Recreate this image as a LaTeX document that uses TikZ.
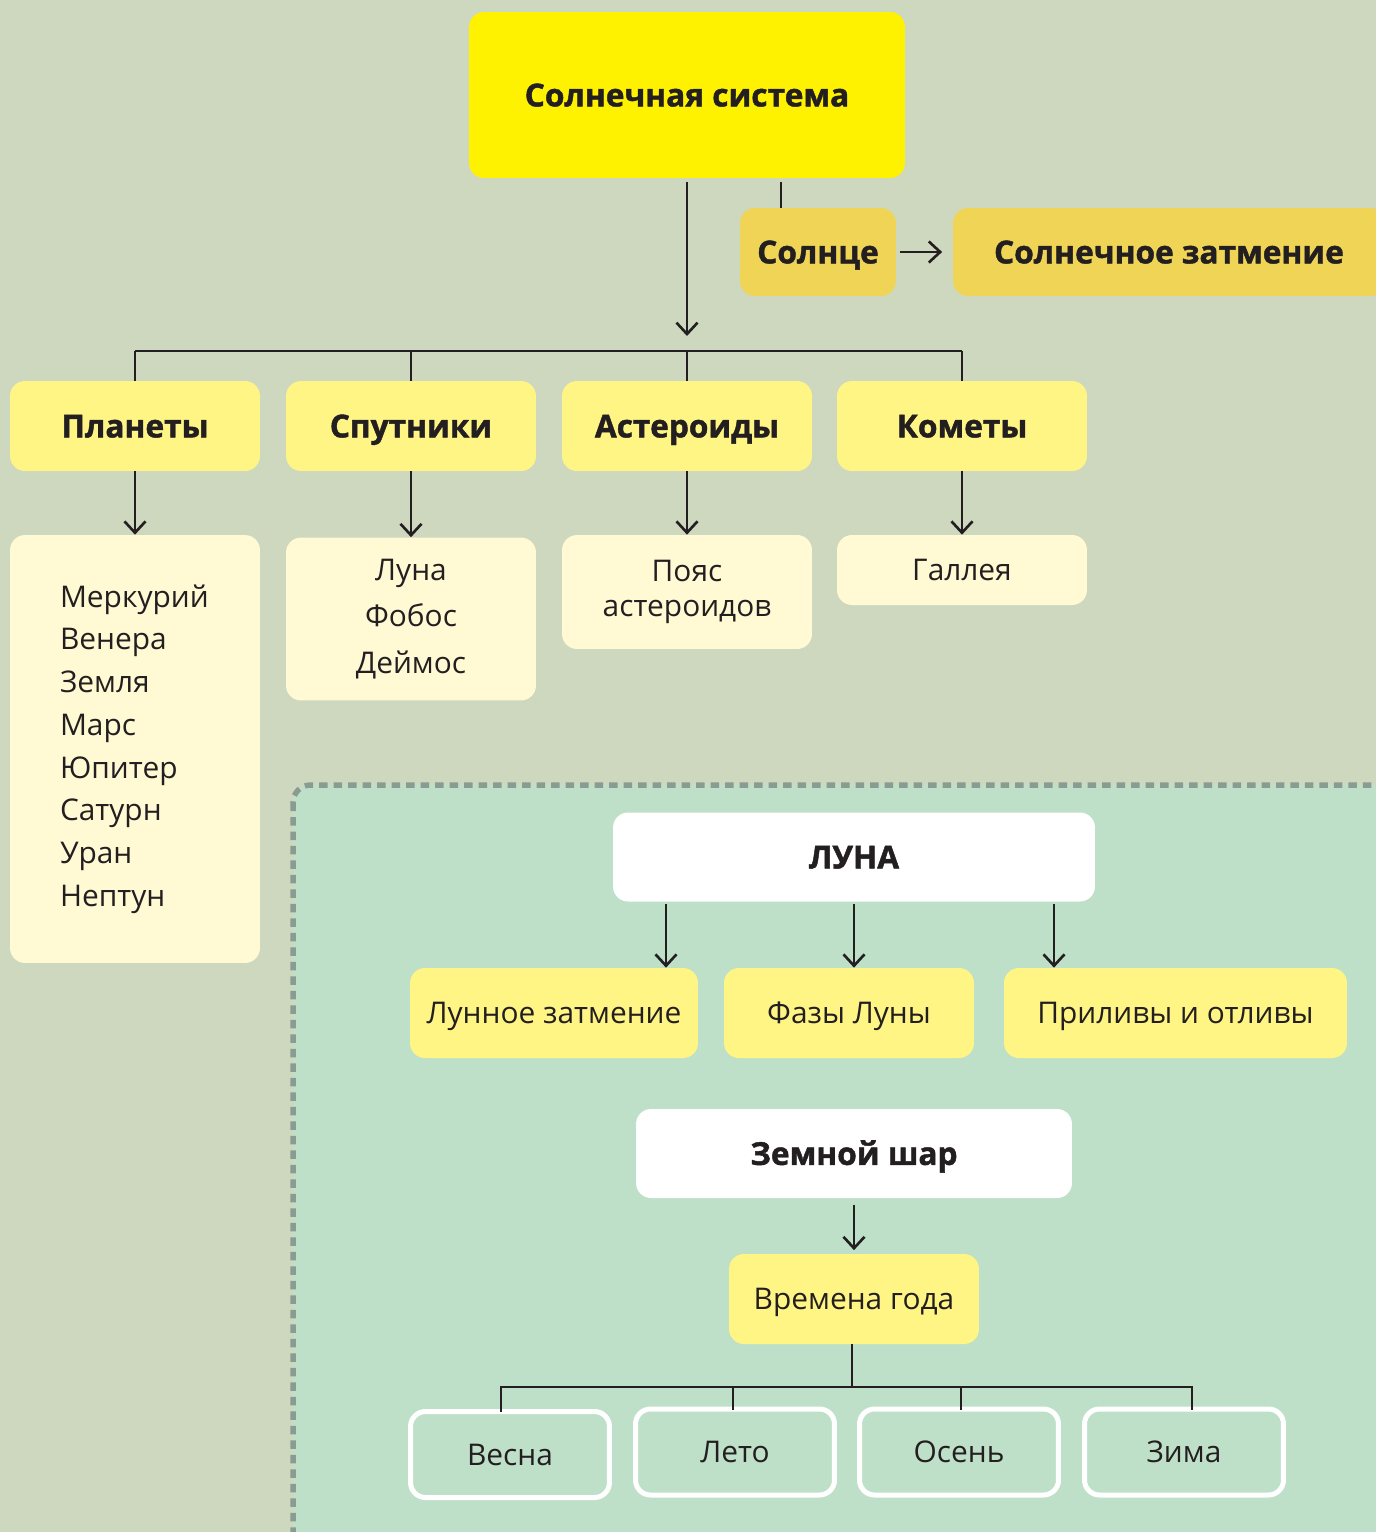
\documentclass[tikz,border=0pt]{standalone}
\usepackage{fontspec}
\setmainfont{Open Sans}[BoldFeatures={FakeBold=1.4}]
\usepackage{tikz}
\usetikzlibrary{arrows.meta}
\definecolor{backgr}{RGB}{206, 216, 191}
\definecolor{sunyellow}{RGB}{255, 242, 0}
\definecolor{staryellow}{RGB}{239, 212, 86}
\definecolor{groupyellow}{RGB}{255, 245, 133}
\definecolor{listyellow}{RGB}{255, 250, 212}
\definecolor{moongreen}{RGB}{191, 224, 200}
\definecolor{dashgray}{RGB}{138, 155, 145}
\definecolor{inkblack}{RGB}{35, 31, 32}

\begin{document}
\begin{tikzpicture}[x=0.02cm, y=-0.02cm,
  box/.style={rounded corners=0.3cm, inner sep=0pt, align=center, text=inkblack},
  headbox/.style={box, text height=17pt, text depth=4pt, font=\fontsize{18}{22}\selectfont\bfseries},
  textbox/.style={box, font=\fontsize{17}{24}\selectfont},
  oneline/.style={text height=16pt, text depth=4pt},
  groupbox/.style={headbox, fill=groupyellow, minimum width=5cm, minimum height=1.8cm},
  listbox/.style={textbox, fill=listyellow, minimum width=5cm},
  leafbox/.style={textbox, oneline, fill=groupyellow, minimum height=1.8cm},
  seasonbox/.style={textbox, oneline, draw=white, line width=0.1cm, fill=moongreen, minimum width=3.98cm, minimum height=1.72cm},
  arr/.style={draw=inkblack, line width=1.5pt, -{Straight Barb[length=6.5pt, width=12pt, line width=1.5pt]}},
  link/.style={draw=inkblack, line width=1.5pt}]
% background and margins
\fill[backgr] (0,0) rectangle (1376,1532);
\useasboundingbox (0,0) rectangle (1376,1532);

% Solar system part
\node[headbox, fill=sunyellow, minimum width=8.72cm, minimum height=3.32cm] (system) at (687,95) {Солнечная система};
\node[headbox, fill=staryellow, minimum width=3.12cm, minimum height=1.76cm] (sun) at (818,252) {Солнце};
\node[headbox, fill=staryellow, minimum width=8.64cm, minimum height=1.76cm] (eclipse) at (1169,252) {Солнечное затмение};

\node[groupbox] (planets) at (135,426) {Планеты};
\node[groupbox] (moons) at (411,426) {Спутники};
\node[groupbox] (asteroids) at (687,426) {Астероиды};
\node[groupbox] (comets) at (962,426) {Кометы};

\node[listbox, minimum height=8.56cm, text width=3cm, align=left, font=\fontsize{17}{24.3}\selectfont] (planetlist) at (135,749)
  {Меркурий\\Венера\\Земля\\Марс\\Юпитер\\Сатурн\\Уран\\Нептун\\[3pt]};
\node[listbox, minimum height=3.26cm, font=\fontsize{17}{26.5}\selectfont] (moonlist) at (411,619) {Луна\\Фобос\\Деймос};
\node[listbox, minimum height=2.28cm, font=\fontsize{17}{20}\selectfont] (beltlist) at (687,592) {Пояс\\астероидов};
\node[listbox, oneline, minimum height=1.4cm] (cometlist) at (962,570) {Галлея};

\coordinate (hub) at (687,351);
\coordinate (hubtop) at (687,336);

% connectors
\draw[arr] ([yshift=-0.08cm]system.south) -- (hubtop);
\draw[link] (hub -| planets.north) -- (hub -| comets.north);
\foreach \g in {planets, moons, asteroids, comets}
  \draw[link] (hub -| \g.north) -- (\g.north);
\draw[link] (781,0 |- system.south) ++(0,4) -- (781,0 |- sun.north);
\draw[arr, shorten <=2pt, shorten >=6pt] (sun.east) -- (eclipse.west);
\draw[arr] (planets.south) -- (planetlist.north);
\draw[arr] (moons.south) -- (moonlist.north);
\draw[arr] (asteroids.south) -- (beltlist.north);
\draw[arr] (comets.south) -- (cometlist.north);

% Moon and Earth part
\draw[dashgray, fill=moongreen, line width=0.11cm, dash pattern=on 0.17cm off 0.12cm, rounded corners=0.35cm]
  (293,785) rectangle (1420,1580);

\node[headbox, fill=white, minimum width=9.64cm, minimum height=1.78cm] (moon) at (854,857) {ЛУНА};
\node[leafbox, minimum width=5.76cm] (lunarecl) at (554,1013) {Лунное затмение};
\node[leafbox, minimum width=5cm] (phases) at (849,1013) {Фазы Луны};
\node[leafbox, minimum width=6.86cm] (tides) at (1175.5,1013) {Приливы и отливы};

\draw[arr] (666,0 |- moon.south) ++(0,2) -- (666,0 |- lunarecl.north);
\draw[arr] (854,0 |- moon.south) ++(0,2) -- (854,0 |- phases.north);
\draw[arr] (1054,0 |- moon.south) ++(0,2) -- (1054,0 |- tides.north);

\node[headbox, fill=white, minimum width=8.72cm, minimum height=1.78cm] (earth) at (854,1153.5) {Земной шар};
\node[leafbox, minimum width=5cm] (seasons) at (854,1299) {Времена года};
\draw[arr, shorten <=3.5pt, shorten >=2pt] (earth.south) -- (seasons.north);

\node[seasonbox] (spring) at (510,1454.5) {Весна};
\node[seasonbox] (summer) at (735,1452) {Лето};
\node[seasonbox] (autumn) at (959,1452) {Осень};
\node[seasonbox] (winter) at (1184,1452) {Зима};

\coordinate (fork) at (852,1387);
\draw[link] (seasons.south -| fork) -- (fork);
\foreach \s/\dx in {spring/-9, summer/-2, autumn/2, winter/8}
  \draw[link] (fork) -| ([xshift=\dx*0.02cm, yshift=-0.06cm]\s.north);
\end{tikzpicture}
\end{document}
